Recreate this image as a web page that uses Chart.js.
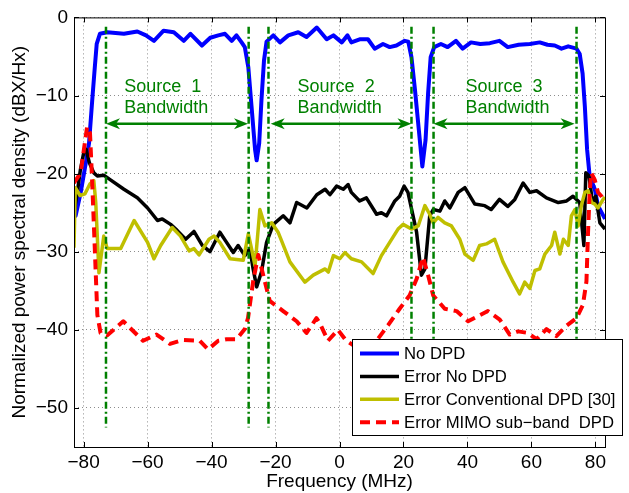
<!DOCTYPE html>
<html>
<head>
<meta charset="utf-8">
<script src="https://cdn.jsdelivr.net/npm/chart.js@4"></script>
<style>
  body { margin: 0; background: #fff; }
  canvas { display: block; }
</style>
</head>
<body>
<canvas id="psdChart" width="629" height="493"></canvas>
<script>
// tick labels
const xTicks = [-80, -60, -40, -20, 0, 20, 40, 60, 80];
const yTicks = [-50, -40, -30, -20, -10, 0];

// No DPD
const noDpdFreq = [-83, -82.5, -80.9, -79.3, -78.3, -77.3, -76.5, -75.9, -74.9, -72.6, -67.4, -63.2, -60.5, -58, -55, -51.8, -48.7, -46.6, -43, -40.4, -37.9, -35.8, -33.7, -32.2, -30.6, -29.6, -28.5, -27.5, -26.4, -25.9, -25.1, -24.4, -23.6, -22.8, -20.7, -18.6, -16, -12.9, -10.3, -7.1, -4, -1.9, 0.7, 2.5, 3.7, 6.3, 8.9, 11, 13.6, 15.7, 17.8, 20.4, 21.5, 22.5, 23.6, 24.8, 25.9, 26.9, 27.7, 28.5, 29.6, 31.7, 33.8, 36.4, 38.5, 41.1, 44, 47, 50, 52.6, 56, 59.5, 62.6, 65, 67.3, 69.4, 71.5, 74.1, 75.1, 76, 76.7, 77.4, 78.2, 79.8, 80.8, 83];
const noDpdPsd = [-25.4, -25.4, -22.4, -18.6, -16.1, -10.6, -6.4, -3.4, -2.1, -1.9, -2.1, -1.8, -2.3, -3.0, -1.7, -1.9, -3.0, -2.1, -3.6, -2.6, -2.3, -2.1, -3.0, -2.3, -3.2, -3.8, -6.4, -11.4, -16.9, -18.3, -16.1, -10.6, -5.5, -3.1, -2.3, -3.2, -2.3, -1.9, -2.5, -1.3, -2.8, -2.3, -3.2, -2.3, -3.2, -2.8, -2.8, -4.0, -3.4, -3.8, -3.6, -3.0, -3.1, -5.1, -9.3, -14.4, -19.1, -15.7, -9.7, -5.1, -3.8, -3.4, -3.8, -3.0, -4.0, -3.2, -3.4, -3.3, -3.0, -3.8, -3.5, -3.4, -3.2, -3.5, -3.6, -4.0, -3.7, -4.0, -4.7, -7.2, -11.4, -16.9, -20.3, -22.0, -24.1, -25.8];

// Error No DPD
const errNoDpdFreq = [-83, -82, -81, -80, -79.2, -78.2, -76.8, -75.7, -73.7, -71.6, -67.4, -63.2, -60, -56.9, -55.4, -52.8, -50.7, -48.1, -45.5, -42.9, -40.5, -37.4, -35.3, -33.2, -31.7, -29.6, -28, -27, -25.9, -24.4, -22.8, -20.7, -17.6, -15.5, -13.4, -10.2, -7.1, -4.5, -3, -0.9, 1.2, 2.7, 3.7, 6.3, 8.4, 11.6, 13.1, 14.7, 17.3, 18.8, 20.2, 21.4, 24.1, 25.6, 26.7, 28.2, 29.3, 31.4, 32.9, 34.5, 37.1, 39.2, 42.3, 45.4, 47.4, 50, 52.6, 54.8, 57.4, 59.5, 61.6, 64.7, 68.4, 71, 73, 75.1, 76.4, 77, 78, 79.1, 80.1, 81.4, 83];
const errNoDpdPsd = [-25, -22.5, -19.5, -17.4, -16.9, -18.6, -19.9, -20.3, -20.2, -20.8, -22, -23.1, -24.4, -26, -25.8, -26.5, -27.3, -28.4, -27.4, -29.2, -30, -27.5, -28.8, -30.1, -29.2, -30.5, -29.6, -32.2, -34.5, -32.6, -28.8, -26.5, -25.4, -26.3, -23.7, -24.4, -22.7, -22, -22.7, -21.6, -22, -21.4, -22.4, -23.5, -23.1, -25.2, -25, -25.4, -23.5, -22.9, -21.6, -22.4, -27.5, -33, -32.2, -25.4, -24.6, -24.8, -23.5, -24.4, -22.4, -21.8, -23.9, -24.1, -24.6, -23.3, -24.2, -23.3, -21.2, -22.4, -22.2, -23.1, -23.7, -23.5, -22.9, -23.7, -29.2, -19.9, -20.3, -23.7, -22.9, -26.3, -27.1];

// Error Conventional DPD [30]
const errConvFreq = [-83, -82.6, -81.1, -79.6, -78, -76.8, -76.2, -75.2, -73.7, -72.6, -68.4, -64.2, -60, -58, -55.9, -52.3, -49.7, -47, -45.5, -43.9, -40.8, -39.2, -37.4, -34.2, -30.1, -28.5, -27.5, -26.4, -24.9, -23.3, -21.2, -19.2, -18.1, -15.5, -10.8, -8.2, -4.5, -3.5, -1.9, 0.1, 1.7, 3.7, 6.9, 10.5, 13.1, 15.7, 18.3, 19.9, 22.5, 24.6, 26.7, 28.2, 29.3, 30.8, 32.9, 35, 37.6, 39.2, 41.8, 43.8, 45.9, 48.5, 51.1, 54.3, 56.3, 57.9, 59.5, 61.1, 62.6, 64.2, 66.3, 67.3, 68.9, 70, 71.5, 72.5, 73.6, 74.6, 75.6, 76.7, 77.7, 78.8, 79.8, 80.8, 82.4, 83];
const errConvPsd = [-29.5, -21.8, -22.8, -22.6, -21.3, -20.9, -23.7, -32.7, -28, -29.6, -29.6, -26, -28.8, -30.9, -29.2, -26.9, -28, -29.9, -29.6, -30.4, -28.4, -28, -28.8, -30.9, -31.1, -27.7, -29.6, -31.8, -24.6, -26.7, -26.3, -27.5, -28.6, -31.3, -33.9, -33, -32.2, -32.6, -30.5, -30.9, -30.1, -30.9, -31.3, -32.8, -30.5, -28.8, -27.1, -26.5, -27.1, -26.7, -24.1, -25.2, -26.3, -25.6, -26.3, -26.7, -28.4, -30.3, -31.1, -29.2, -29, -28.4, -31.3, -33.9, -35.4, -33.9, -34.7, -32.4, -32.2, -30.3, -29.2, -27.5, -30.3, -28.4, -29.2, -25.4, -24.6, -26.7, -24.1, -22.4, -22.2, -23.7, -23.9, -24.4, -23.3, -23];

// Error MIMO sub-band DPD
const errMimoFreq = [-83, -80.9, -79.9, -78.9, -78, -77.3, -76.5, -75.7, -74.7, -72.6, -67.6, -61.4, -57.2, -53, -48.9, -43.7, -41.1, -37.9, -35.3, -32.2, -29.6, -28.6, -27, -25.4, -23.9, -21.8, -17.6, -13.4, -10.3, -7.2, -6.2, -3.6, -0.5, 2.1, 5.2, 8.4, 12.1, 15.2, 18.8, 21.9, 24.1, 26.1, 27.7, 29.3, 32.9, 36.6, 40.2, 46.4, 50.1, 53.2, 55.8, 58.9, 61.6, 64.7, 67.8, 70.9, 74.1, 76.1, 77.2, 77.7, 78.2, 78.7, 79.8, 80.8, 81.9, 83];
const errMimoPsd = [-21.2, -19.9, -16.9, -14, -14.8, -21.2, -29.6, -38.1, -40.4, -40.7, -38.9, -41.4, -40.6, -41.8, -41.3, -41.4, -42.5, -41.4, -41.2, -41.2, -39.9, -38.5, -33.8, -30.4, -32.9, -36.3, -37.6, -38.9, -40.4, -38.5, -39.1, -41.4, -40, -41.4, -42.2, -41.8, -41.1, -39.4, -37.3, -35.6, -33.5, -30.7, -33, -35.6, -37.3, -37.6, -38.9, -37.6, -38.7, -40.6, -40.2, -40.4, -41.2, -39.9, -40.8, -39.5, -38.5, -36.8, -33.8, -27.5, -22.4, -19.9, -20.8, -22.4, -22.9, -23.7];

// source band markers
const bandEdges = [-73, -28.4, -22.2, 22.5, 29.4, 74.1];
const bandLineSpan = [-1.2, -52.5];
const arrowFrom = [-73, -21.5, 29.4];
const arrowTo = [-28.6, 22.5, 73.5];
const arrowLevel = -13.6;
const sourceNames = ['Source  1', 'Source  2', 'Source  3'];
const sourceNameX = [-67.3, -13.1, 39.4];
const sourceNameY = -9.6;
const bandwidthY = -12.2;

const FONT = '"Liberation Sans", Arial, Helvetica, sans-serif';
const minus = v => String(v).replace('-', '\u2212');
const pts = (xs, ys) => xs.map((f, i) => ({ x: f, y: ys[i] }));

function drawArrowHead(ctx, x, y, dir) {
    ctx.beginPath();
    ctx.moveTo(x, y);
    ctx.lineTo(x - dir * 14, y - 5.5);
    ctx.lineTo(x - dir * 10, y);
    ctx.lineTo(x - dir * 14, y + 5.5);
    ctx.closePath();
    ctx.fill();
}

const matlabLook = {
    id: 'matlabLook',
    afterDatasetsDraw(chart) {
        const { ctx, scales: { x, y } } = chart;
        ctx.save();
        // dash-dot band edges
        ctx.strokeStyle = '#008000';
        ctx.lineWidth = 2.5;
        ctx.setLineDash([7, 3, 2, 3]);
        bandEdges.forEach(f => {
            const px = x.getPixelForValue(f);
            ctx.beginPath();
            ctx.moveTo(px, y.getPixelForValue(bandLineSpan[0]));
            ctx.lineTo(px, y.getPixelForValue(bandLineSpan[1]));
            ctx.stroke();
        });
        // double arrows
        ctx.setLineDash([]);
        ctx.fillStyle = '#008000';
        const ay = y.getPixelForValue(arrowLevel);
        arrowFrom.forEach((f, i) => {
            const x1 = x.getPixelForValue(f), x2 = x.getPixelForValue(arrowTo[i]);
            ctx.beginPath();
            ctx.moveTo(x1 + 6, ay);
            ctx.lineTo(x2 - 6, ay);
            ctx.stroke();
            drawArrowHead(ctx, x1, ay, -1);
            drawArrowHead(ctx, x2, ay, 1);
        });
        // labels
        ctx.font = '18px ' + FONT;
        ctx.textAlign = 'left';
        ctx.textBaseline = 'alphabetic';
        sourceNames.forEach((s, i) => {
            const px = x.getPixelForValue(sourceNameX[i]);
            ctx.fillText(s, px, y.getPixelForValue(sourceNameY));
            ctx.fillText('Bandwidth', px, y.getPixelForValue(bandwidthY));
        });
        ctx.restore();
    },
    afterDraw(chart) {
        const { ctx, chartArea: a, scales: { x, y } } = chart;
        ctx.save();
        // box + inward ticks
        ctx.strokeStyle = '#000';
        ctx.lineWidth = 1;
        ctx.strokeRect(a.left + 0.5, a.top + 0.5, a.right - a.left, a.bottom - a.top);
        ctx.beginPath();
        xTicks.forEach(v => {
            const px = Math.round(x.getPixelForValue(v)) + 0.5;
            ctx.moveTo(px, a.bottom); ctx.lineTo(px, a.bottom - 5);
            ctx.moveTo(px, a.top); ctx.lineTo(px, a.top + 5);
        });
        yTicks.forEach(v => {
            const py = Math.round(y.getPixelForValue(v)) + 0.5;
            ctx.moveTo(a.left, py); ctx.lineTo(a.left + 5, py);
            ctx.moveTo(a.right, py); ctx.lineTo(a.right - 5, py);
        });
        ctx.stroke();

        // legend box
        const lx = 352.5, ly = 339.5, lw = 270, lh = 96;
        ctx.fillStyle = '#fff';
        ctx.fillRect(lx, ly, lw, lh);
        ctx.strokeRect(lx, ly, lw, lh);
        ctx.font = '16.7px ' + FONT;
        ctx.textBaseline = 'middle';
        ctx.textAlign = 'left';
        chart.data.datasets.forEach((ds, i) => {
            const ry = 353.5 + i * 22.9;
            ctx.strokeStyle = ds.borderColor;
            ctx.lineWidth = ds.borderWidth;
            ctx.setLineDash(ds.borderDash || []);
            ctx.beginPath();
            ctx.moveTo(360, ry);
            ctx.lineTo(399, ry);
            ctx.stroke();
            ctx.fillStyle = '#000';
            ctx.fillText(ds.label, 404, ry + 1);
        });
        ctx.restore();
    }
};

const ctx = document.getElementById('psdChart').getContext('2d');
const psdChart = new Chart(ctx, {
    type: 'line',
    data: {
        datasets: [
            { label: 'No DPD', data: pts(noDpdFreq, noDpdPsd), borderColor: '#0000ff', borderWidth: 4, order: 4 },
            { label: 'Error No DPD', data: pts(errNoDpdFreq, errNoDpdPsd), borderColor: '#000000', borderWidth: 3.5, order: 3 },
            { label: 'Error Conventional DPD [30]', data: pts(errConvFreq, errConvPsd), borderColor: '#bfbf00', borderWidth: 3.5, order: 2 },
            { label: 'Error MIMO sub\u2212band  DPD', data: pts(errMimoFreq, errMimoPsd), borderColor: '#ff0000', borderWidth: 4, borderDash: [10, 6], order: 1 }
        ]
    },
    options: {
        responsive: false,
        animation: false,
        elements: { point: { radius: 0 }, line: { tension: 0, borderJoinStyle: 'round' } },
        layout: { padding: { top: 14, right: 24, left: 0, bottom: 0 } },
        plugins: { legend: { display: false }, tooltip: { enabled: false } },
        scales: {
            x: {
                type: 'linear',
                min: -83,
                max: 83,
                afterBuildTicks: s => { s.ticks = xTicks.map(v => ({ value: v })); },
                afterFit: s => { s.height = 46; },
                ticks: { color: '#000', font: { family: FONT, size: 19 }, padding: 4, maxRotation: 0, callback: minus },
                grid: { color: 'rgba(0,0,0,0.45)', drawTicks: false },
                border: { display: false, dash: [1, 3] },
                title: { display: true, text: 'Frequency (MHz)', color: '#000', font: { family: FONT, size: 19 }, padding: { top: 0, bottom: 0 } }
            },
            y: {
                min: -55,
                max: 0,
                afterBuildTicks: s => { s.ticks = yTicks.map(v => ({ value: v })); },
                afterFit: s => { s.width = 74; },
                ticks: { color: '#000', font: { family: FONT, size: 19 }, padding: 6, callback: minus },
                grid: { color: 'rgba(0,0,0,0.45)', drawTicks: false },
                border: { display: false, dash: [1, 3] },
                title: { display: true, text: 'Normalized power spectral density (dBX/Hx)', color: '#000', font: { family: FONT, size: 19 }, padding: { top: 8, bottom: 0 } }
            }
        }
    },
    plugins: [matlabLook]
});
</script>
</body>
</html>
